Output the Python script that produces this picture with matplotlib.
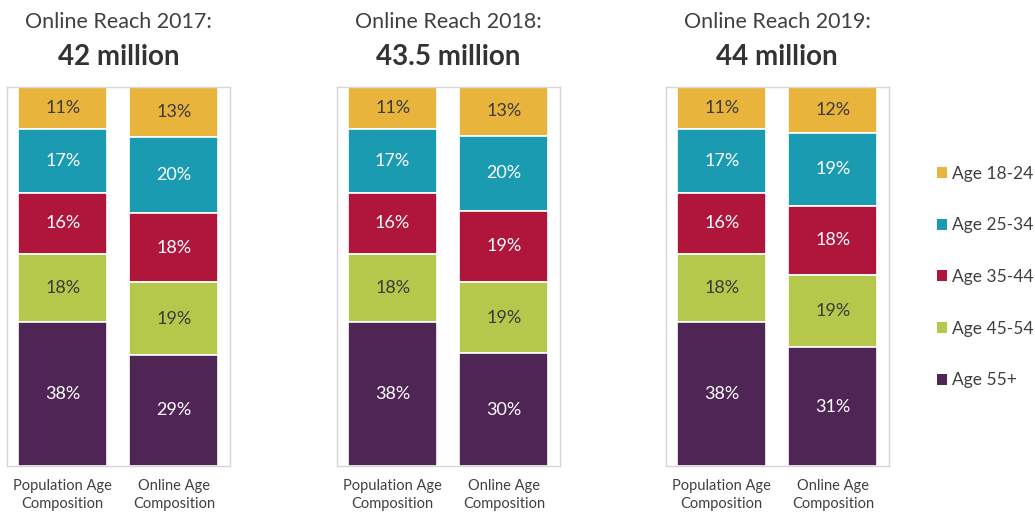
import numpy as np
import matplotlib.pyplot as plt
from matplotlib.patches import Patch

plt.rcParams['font.family'] = ['Lato', 'DejaVu Sans']

# data
years = ['2017', '2018', '2019']
reach = ['42 million', '43.5 million', '44 million']
age_groups = ['Age 18-24', 'Age 25-34', 'Age 35-44', 'Age 45-54', 'Age 55+']
bar_names = ['Population Age\nComposition', 'Online Age\nComposition']
population = [11, 17, 16, 18, 38]
online = {
    '2017': [13, 20, 18, 19, 29],
    '2018': [13, 20, 19, 19, 30],
    '2019': [12, 19, 18, 19, 31],
}

colors = ['#E9B43C', '#1A9BB2', '#B0153C', '#B5C84C', '#4F2556']
label_colors = ['#3a3a3a', 'white', 'white', '#3a3a3a', 'white']

fig = plt.figure(figsize=(10.35, 5.13), dpi=100)
lefts = [0.0068, 0.3256, 0.6435]

for i, yr in enumerate(years):
    ax = fig.add_axes([lefts[i], 0.0916, 0.2150, 0.739])
    cols = [population, online[yr]]
    for j, vals in enumerate(cols):
        vals = np.array(vals, dtype=float)
        shares = vals / vals.sum() * 100
        # stack from the top: 18-24 on top, 55+ at the bottom
        top = 100.0
        for k in range(len(vals)):
            bottom = top - shares[k]
            ax.bar(j, shares[k], bottom=bottom, width=0.8, color=colors[k],
                   edgecolor='white', linewidth=1.2)
            ax.text(j, bottom + shares[k] / 2, f'{int(vals[k])}%', ha='center',
                    va='center', fontsize=13, color=label_colors[k])
            top = bottom
    ax.set_xlim(-0.5, 1.5)
    ax.set_ylim(0, 100)
    ax.set_yticks([])
    ax.set_xticks([0, 1])
    ax.set_xticklabels(bar_names, fontsize=10.5, color='#404040', linespacing=1.4)
    ax.tick_params(axis='x', length=0, pad=9)
    for s in ax.spines.values():
        s.set_color('#d6d6d6')
        s.set_linewidth(1)
    ax.text(0.5, 1.17, f'Online Reach {yr}:', transform=ax.transAxes, ha='center',
            va='center', fontsize=15.5, color='#404040')
    ax.text(0.5, 1.08, reach[i], transform=ax.transAxes, ha='center',
            va='center', fontsize=20, fontweight='bold', color='#333333')

handles = [Patch(facecolor=c, edgecolor='none') for c in colors]
fig.legend(handles, age_groups, loc='center left', bbox_to_anchor=(0.89, 0.46),
           frameon=False, fontsize=12.5, labelcolor='#404040',
           handlelength=0.6, handleheight=0.6, handletextpad=0.3,
           labelspacing=2.05)

fig.savefig('out.png', dpi=100)
